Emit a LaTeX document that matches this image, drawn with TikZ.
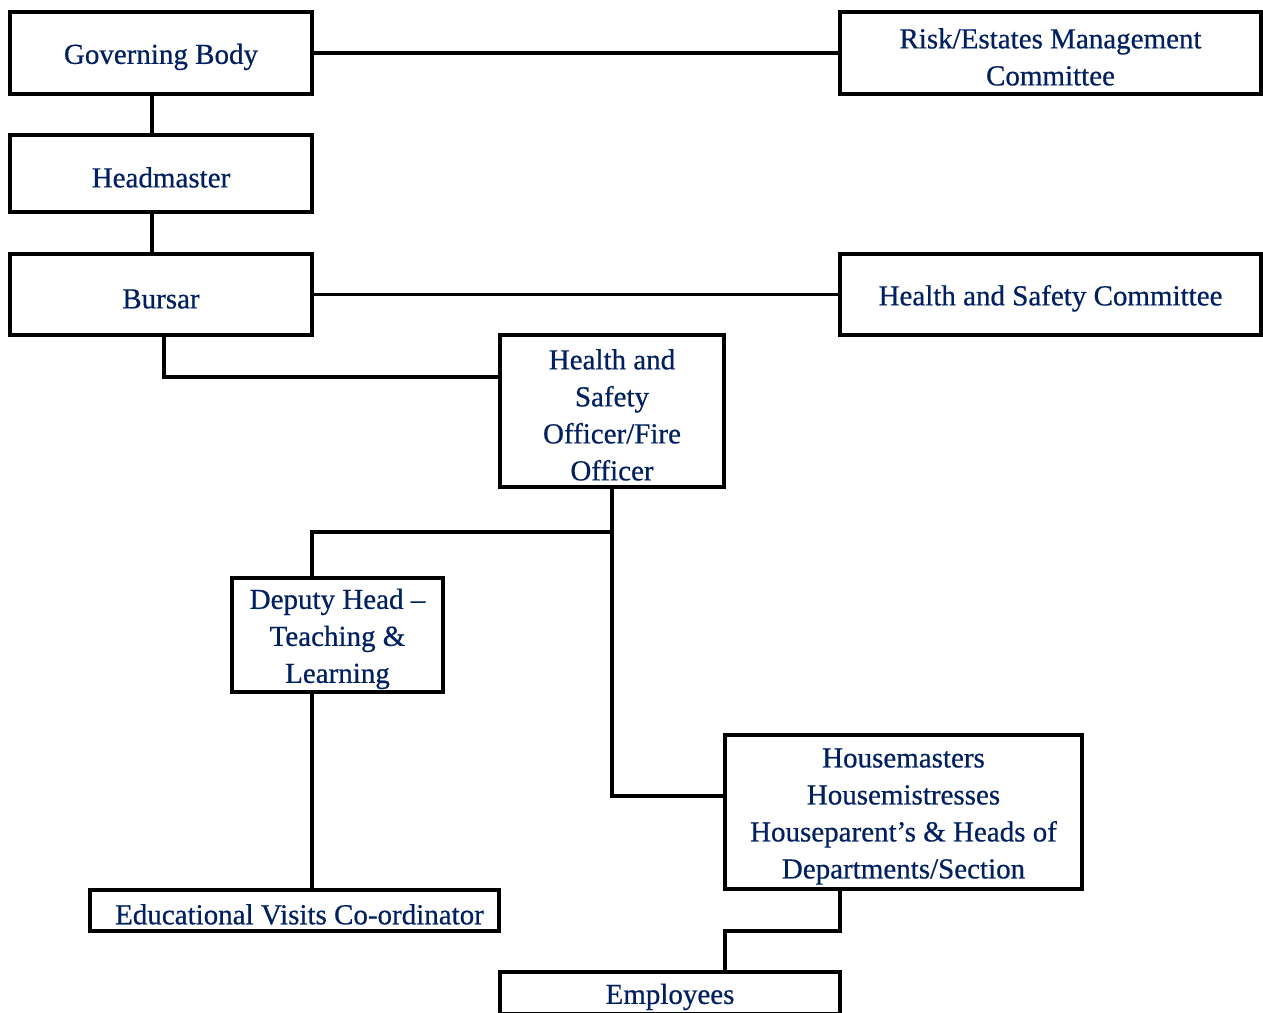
\documentclass[tikz,border=0pt]{standalone}
\usepackage{fontspec}
\setmainfont{Liberation Serif}
\newfontfamily\boxfont[FakeBold=0.6,Ligatures=TeX]{Liberation Serif}
\definecolor{navy}{RGB}{0,32,96}
\newcommand\tpad{\rule{0pt}{28pt}}
\begin{document}
\begin{tikzpicture}[x=1pt,y=-1pt,
  box/.style={draw=black, line width=3.5pt, fill=white, rectangle, inner sep=0pt,
    align=center, text=navy, font=\boxfont\fontsize{29}{37}\selectfont},
  conn/.style={draw=black, line width=3.5pt}]
\useasboundingbox (0,0) rectangle (1263,1012);
% nodes
\node[box, minimum width=302pt, minimum height=82pt] (gb) at (161,53) {\tpad Governing Body};
\node[box, minimum width=421pt, minimum height=82pt] (risk) at (1050.5,53) {\tpad Risk/Estates Management\\Committee};
\node[box, minimum width=302pt, minimum height=77pt] (head) at (161,173.5) {\tpad Headmaster};
\node[box, minimum width=302pt, minimum height=81pt] (bursar) at (161,294.5) {\tpad Bursar};
\node[box, minimum width=421pt, minimum height=81pt] (hsc) at (1050.5,294.5) {\tpad Health and Safety Committee};
\node[box, minimum width=224pt, minimum height=152pt] (hso) at (612,411) {\tpad Health and\\Safety\\Officer/Fire\\Officer};
\node[box, minimum width=211pt, minimum height=114pt] (dep) at (337.5,635) {\tpad Deputy Head –\\Teaching \&\\Learning};
\node[box, minimum width=409pt, minimum height=41pt] (evc) at (294.5,910.5) {\tpad\hspace*{10pt}Educational Visits Co-ordinator};
\node[box, minimum width=357pt, minimum height=154pt] (hm) at (903.5,812) {\tpad Housemasters\\Housemistresses\\Houseparent’s \& Heads of\\Departments/Section};
\node[box, minimum width=340pt, minimum height=42pt] (emp) at (670,993) {\tpad Employees};
% junction coordinates
\coordinate (j1) at (164,377);
\coordinate (j2) at (612,532);
\coordinate (j3) at (312,532);
\coordinate (j4) at (612,796);
\coordinate (j5) at (840,931);
\coordinate (j6) at (725,931);
% connectors
\draw[conn] (gb.east) -- (risk.west);
\draw[conn] (gb.south -| 152,0) -- (head.north -| 152,0);
\draw[conn] (head.south -| 152,0) -- (bursar.north -| 152,0);
\draw[conn] (bursar.east) -- (hsc.west);
\draw[conn] (bursar.south -| j1) -- (j1) -- (j1 -| hso.west);
\draw[conn] (hso.south) -- (j4) -- (j4 -| hm.west);
\draw[conn] (j2) -- (j3) -- (dep.north -| j3);
\draw[conn] (dep.south -| j3) -- (evc.north -| j3);
\draw[conn] (hm.south -| j5) -- (j5) -- (j6) -- (emp.north -| j6);
\end{tikzpicture}
\end{document}
